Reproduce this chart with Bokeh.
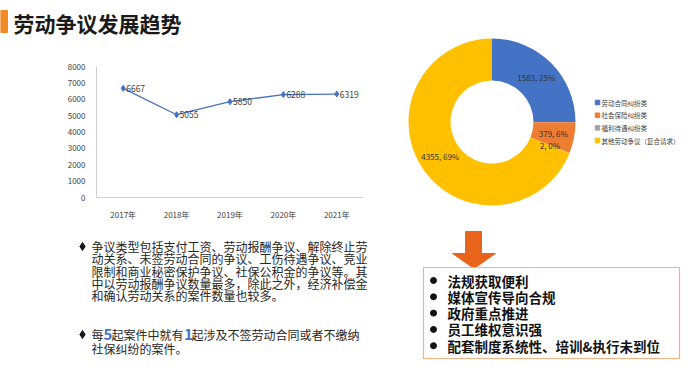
import numpy as np
from bokeh.plotting import figure
from bokeh.layouts import column, row
from bokeh.models import Range1d, FactorRange, FixedTicker
from bokeh.core.properties import value
from bokeh.embed import file_html
from bokeh.resources import INLINE

FONT = "Noto Sans CJK SC"

# ---------------- data ----------------
title_text = "劳动争议发展趋势"
years = ["2017年", "2018年", "2019年", "2020年", "2021年"]
cases = [6667, 5055, 5850, 6288, 6319]
y_ticks = [0, 1000, 2000, 3000, 4000, 5000, 6000, 7000, 8000]

categories = ["劳动合同纠纷类", "社会保险纠纷类", "福利待遇纠纷类", "其他劳动争议（复合请求）"]
counts = [1583, 379, 2, 4355]
colors = ["#4472C4", "#ED7D31", "#A5A5A5", "#FFC000"]

para1 = [
    "争议类型包括支付工资、劳动报酬争议、解除终止劳",
    "动关系、未签劳动合同的争议、工伤待遇争议、竞业",
    "限制和商业秘密保护争议、社保公积金的争议等。其",
    "中以劳动报酬争议数量最多，除此之外，经济补偿金",
    "和确认劳动关系的案件数量也较多。",
]
para2_runs = ["每", "5", "起案件中就有", "1", "起涉及不签劳动合同或者不缴纳"]
para2_line2 = "社保纠纷的案件。"
reasons = ["法规获取便利", "媒体宣传导向合规", "政府重点推进", "员工维权意识强", "配套制度系统性、培训&执行未到位"]


def blank(w, h, xr, yr):
    p = figure(width=w, height=h, x_range=xr, y_range=yr, output_backend="svg",
               toolbar_location=None, x_axis_location=None, y_axis_location=None,
               min_border=0, title=None)
    p.grid.visible = False
    p.outline_line_color = None
    return p


# ---------------- title ----------------
pt = blank(681, 36, Range1d(0, 681), Range1d(36, 0))
pt.quad(left=[0], right=[7], top=[10], bottom=[32], color="#F28A26")
pt.text(x=[13], y=[22], text=[title_text], text_font=value(FONT), text_font_size="21px",
        text_font_style="bold", text_color="#1A1A1A", text_baseline="middle")

# ---------------- line chart ----------------
pl = figure(width=400, height=192, x_range=FactorRange(*years), y_range=Range1d(0, 8000),
            output_backend="svg", toolbar_location=None, title=None,
            min_border_left=96, min_border_right=37, min_border_top=30, min_border_bottom=31)
pl.grid.visible = False
pl.outline_line_color = None
pl.line(years, cases, color="#4A72C2", line_width=1.3)
pl.scatter(years, cases, marker="diamond", size=6, color="#4472C4")
pl.text(years, cases, text=[str(c) for c in cases], x_offset=3, text_baseline="middle",
        text_font=value(FONT), text_font_size="8.5px", text_color="#404040")
for ax in (pl.xaxis, pl.yaxis):
    ax.axis_line_color = "#CFCFCF"
    ax.major_tick_line_color = None
    ax.minor_tick_line_color = None
    ax.major_label_text_font = FONT
    ax.major_label_text_font_size = "8px"
    ax.major_label_text_color = "#404040"
    ax.major_label_standoff = 5
pl.yaxis.ticker = FixedTicker(ticks=y_ticks)

# ---------------- donut ----------------
pd_ = blank(281, 192, Range1d(400, 681), Range1d(-228, -36))
cx, cy = 491.5, -121.5
r_in, r_out = 41.5, 83.5
total = sum(counts)
frac = np.array(counts) / total
cum = np.cumsum(frac)
prev = np.concatenate([[0], cum[:-1]])
start = np.pi / 2 - 2 * np.pi * prev
end = np.pi / 2 - 2 * np.pi * cum
pd_.annular_wedge(x=cx, y=cy, inner_radius=r_in, outer_radius=r_out,
                  start_angle=list(start), end_angle=list(end), direction="clock",
                  fill_color=colors, line_color=None)
mid = (start + end) / 2
r_lab = (r_in + r_out) / 2
lx = cx + r_lab * np.cos(mid)
ly = cy + r_lab * np.sin(mid)
labels = [f"{c}, {round(f * 100)}%" for c, f in zip(counts, frac)]
pd_.text(x=list(lx), y=list(ly), text=labels, text_align="center", text_baseline="middle",
         text_font=value(FONT), text_font_size="8px", text_color="#333333")
leg_y = [-102 - 12.7 * i for i in range(len(categories))]
pd_.scatter(x=[597] * len(categories), y=leg_y, marker="square", size=4.5, color=colors)
pd_.text(x=[601] * len(categories), y=leg_y, text=categories, text_baseline="middle",
         text_font=value(FONT), text_font_size="6.5px", text_color="#404040")

# ---------------- bullet text ----------------
pb = blank(400, 135, Range1d(0, 400), Range1d(363, 228))
l1 = [246 + 12.3 * i for i in range(len(para1))]
pb.scatter(x=[82, 82], y=[246, 334], marker="diamond", size=8, color="#1A1A1A")
pb.text(x=[91] * len(para1), y=l1, text=para1, text_baseline="middle",
        text_font=value(FONT), text_font_size="12px", text_color="#262626")
run_x = [91, 103, 111, 183.5, 191]
run_color = ["#262626", "#4472C4", "#262626", "#4472C4", "#262626"]
run_size = ["12px", "15px", "12px", "15px", "12px"]
run_style = ["normal", "bold", "normal", "bold", "normal"]
for xx, t, c, s, st in zip(run_x, para2_runs, run_color, run_size, run_style):
    pb.text(x=[xx], y=[334], text=[t], text_baseline="middle", text_font=value(FONT),
            text_font_size=s, text_font_style=st, text_color=c)
pb.text(x=[91], y=[347.5], text=[para2_line2], text_baseline="middle",
        text_font=value(FONT), text_font_size="12px", text_color="#262626")

# ---------------- arrow + box ----------------
pr = blank(281, 135, Range1d(400, 681), Range1d(363, 228))
pr.patch(x=[465, 481, 481, 495, 473.5, 452, 465], y=[231, 231, 253, 253, 268, 253, 253],
         color="#E8641B")
pr.quad(left=[423], right=[679], top=[267], bottom=[358], fill_color="white",
        line_color="#F4B183", line_width=1.2)
ry = [280 + 16.3 * i for i in range(len(reasons))]
pr.scatter(x=[433] * len(reasons), y=ry, marker="circle", size=6, color="#111111")
pr.text(x=[447] * len(reasons), y=ry, text=reasons, text_baseline="middle",
        text_font=value(FONT), text_font_size="13.5px", text_font_style="bold",
        text_color="#111111")

# wrap each plot of the middle row so their frames are not aligned to each other
layout = column(pt, row(column(pl), column(pd_)), row(pb, pr))

open("out.html", "w").write(file_html(layout, INLINE))
